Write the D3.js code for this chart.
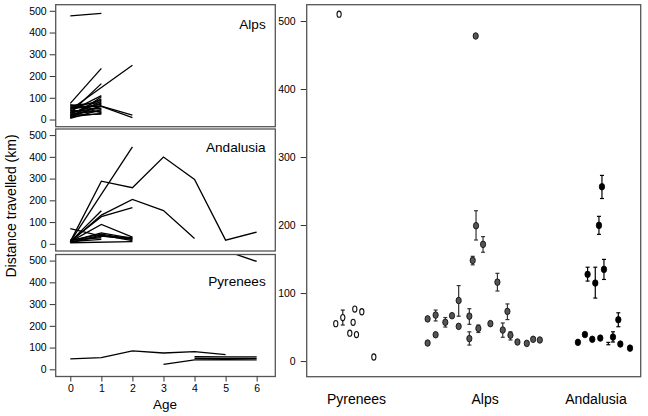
<!DOCTYPE html>
<html>
<head>
<meta charset="utf-8">
<script src="https://cdn.jsdelivr.net/npm/d3@7"></script>
<style>
  body { margin: 0; background: #fff; }
  svg { display: block; font-family: "Liberation Sans", Arial, sans-serif; }
</style>
</head>
<body>
<svg id="chart" width="648" height="416"></svg>
<script>
// ---------------- DATA ----------------
const regions = ["Alps", "Andalusia", "Pyrenees"];
const ageTicks = [0, 1, 2, 3, 4, 5, 6];
const distTicksLeft = [0, 100, 200, 300, 400, 500];
const distTicksRight = [0, 100, 200, 300, 400, 500];

// individual tracks: [age, distance travelled (km)]
const alpsTracks = [
  [[0, 477], [1, 488]],
  [[0, 74], [1, 235]],
  [[0, 45], [2, 250]],
  [[0, 30], [1, 165]],
  [[0, 62], [1, 60], [2, 9]],
  [[0, 55], [1, 62], [2, 20]],
  [[0, 5], [1, 45]],
  [[0, 8], [1, 105]],
  [[0, 12], [1, 28]],
  [[0, 15], [1, 85]],
  [[0, 18], [1, 60]],
  [[0, 22], [1, 95]],
  [[0, 25], [1, 40]],
  [[0, 28], [1, 75]],
  [[0, 35], [1, 52]],
  [[0, 38], [1, 110]],
  [[0, 42], [1, 35]],
  [[0, 48], [1, 70]],
  [[0, 52], [1, 88]],
  [[0, 58], [1, 48]],
  [[0, 65], [1, 78]],
  [[0, 68], [1, 32]],
  [[0, 10], [1, 65]],
  [[0, 20], [1, 25]]
];
const andalusiaTracks = [
  [[0, 10], [2, 446]],
  [[0, 10], [1, 288], [2, 258], [3, 399], [4, 296], [5, 17], [6, 54]],
  [[0, 8], [1, 132], [2, 204], [3, 153], [4, 24]],
  [[0, 10], [1, 152]],
  [[0, 12], [1, 125], [2, 166]],
  [[0, 70], [1, 35], [2, 22]],
  [[0, 10], [1, 89], [2, 31]],
  [[0, 12], [1, 50], [2, 25]],
  [[0, 15], [1, 45], [2, 20]],
  [[0, 8], [1, 40], [2, 15]],
  [[0, 10], [1, 20]],
  [[0, 18], [1, 28]],
  [[0, 6], [1, 35], [2, 28]],
  [[0, 5], [2, 10]]
];
const pyreneesTracks = [
  [[0, 48], [1, 54], [2, 85], [3, 75], [4, 81], [5, 68]],
  [[3, 23], [4, 43], [5, 44], [6, 43]],
  [[4, 58], [5, 57], [6, 57]],
  [[4, 51], [5, 50], [6, 50]],
  [[5, 545], [6, 496]]
];

// right panel: individual mean distance with error bars
// x = horizontal position (0-100 across the panel), y = mean, lo/hi = error bar ends
const catLabels = ["Pyrenees", "Alps", "Andalusia"];
const catPositions = [14.9, 53.4, 86.6];

const pyreneesX  = [9.7, 8.7, 10.8, 14.4, 16.5, 13.9, 12.9, 14.9, 20.1];
const pyreneesY  = [510, 55, 64, 76.5, 72.5, 57, 41, 39, 6];
const pyreneesLo = [null, null, 53, null, null, null, null, null, null];
const pyreneesHi = [null, null, 75, null, null, null, null, null, null];

const alpsX  = [36.2, 36.2, 38.6, 38.6, 41.5, 43.5, 45.5, 45.5, 48.7, 48.7, 49.7, 50.7, 50.6, 51.4, 52.8, 55.0, 57.1, 58.7, 60.1, 61.0, 63.1, 65.9, 67.8, 69.8];
const alpsY  = [62, 26.5, 67.6, 38.7, 57, 66.7, 89, 51, 66, 33, 148, 199, 478, 48, 171.6, 55, 116, 45.6, 73, 38, 28, 26, 32, 31];
const alpsLo = [null, null, 59, null, 50, null, 66, null, 54, 23.5, 141.5, 178, null, 42, 160, null, 103, 35, 61, 31, null, null, null, null];
const alpsHi = [null, null, 75, null, 64, null, 111, null, 77, 43, 154, 221, null, 53, 183, null, 129, 56, 84, 43, null, null, null, null];

const andalusiaX  = [81.2, 83.3, 84.1, 85.5, 86.4, 87.5, 87.9, 88.4, 89.0, 90.3, 91.7, 93.3, 93.9, 96.8];
const andalusiaY  = [27.5, 39, 127.5, 32, 114.7, 199.5, 33.8, 256.3, 134.8, 26, 35.3, 60.8, 25, 19];
const andalusiaLo = [null, null, 117.6, null, 92.6, 186.3, null, 239, 120, 24, 28, 50.5, null, null];
const andalusiaHi = [null, null, 138, null, 138, 212.8, null, 273, 149.5, 27.5, 43, 71, null, null];
const andalusiaMarker = [true, true, true, true, true, true, true, true, true, false, true, true, true, true];

// ---------------- LAYOUT ----------------
const svg = d3.select("#chart");
const font = "'Liberation Sans', Arial, sans-serif";
const frameColor = "#555";
const textColor = "#000";

const left = { x0: 55.7, x1: 275.3, tops: [4.7, 129, 254.5], h: 122 };
const titleOffsets = [19.3, 18.7, 26.5];
const tracksByRegion = [alpsTracks, andalusiaTracks, pyreneesTracks];

const xAge = d3.scaleLinear().domain([-0.47, 6.6]).range([left.x0, left.x1]);

const defs = svg.append("defs");

regions.forEach((name, i) => {
  const top = left.tops[i], bottom = top + left.h;
  const yS = d3.scaleLinear().domain([-33, 528]).range([bottom, top]);
  const g = svg.append("g");

  defs.append("clipPath").attr("id", "clip" + i)
    .append("rect").attr("x", left.x0).attr("y", top)
    .attr("width", left.x1 - left.x0).attr("height", left.h);

  const line = d3.line().x(d => xAge(d[0])).y(d => yS(d[1]));
  g.append("g").attr("clip-path", `url(#clip${i})`)
    .selectAll("path").data(tracksByRegion[i]).join("path")
    .attr("d", line).attr("fill", "none")
    .attr("stroke", "#000").attr("stroke-width", 1.3);

  // y axis
  const ax = g.append("g").attr("transform", `translate(${left.x0},0)`)
    .call(d3.axisLeft(yS).tickValues(distTicksLeft).tickFormat(d3.format("d")).tickSize(6).tickPadding(3));
  ax.select(".domain").remove();
  ax.selectAll("line").attr("stroke", "#333");
  ax.selectAll("text").attr("font-size", 10.5).attr("font-family", font).attr("fill", textColor);

  g.append("rect").attr("x", left.x0).attr("y", top)
    .attr("width", left.x1 - left.x0).attr("height", left.h)
    .attr("fill", "none").attr("stroke", frameColor).attr("stroke-width", 1.3);

  g.append("text").attr("x", 265.7).attr("y", top + titleOffsets[i] + 4.5)
    .attr("text-anchor", "end").attr("font-size", 13.6).attr("font-family", font)
    .attr("fill", textColor).text(name);

  if (i === regions.length - 1) {
    const xa = g.append("g").attr("transform", `translate(0,${bottom})`)
      .call(d3.axisBottom(xAge).tickValues(ageTicks).tickFormat(d3.format("d")).tickSize(5).tickPadding(3));
    xa.select(".domain").remove();
    xa.selectAll("line").attr("stroke", "#333");
    xa.selectAll("text").attr("font-size", 10.5).attr("font-family", font).attr("fill", textColor);
  }
});

svg.append("text").attr("x", 165).attr("y", 409)
  .attr("text-anchor", "middle").attr("font-size", 13.5).attr("font-family", font)
  .attr("fill", textColor).text("Age");

svg.append("text")
  .attr("transform", "translate(16,206) rotate(-90)")
  .attr("text-anchor", "middle").attr("font-size", 14).attr("font-family", font)
  .attr("fill", textColor).text("Distance travelled (km)");

// ---------------- RIGHT PANEL ----------------
const right = { x0: 306.7, x1: 640.7, y0: 4.7, y1: 376.7 };
const xPos = d3.scaleLinear().domain([0, 100]).range([right.x0, right.x1]);
const yR = d3.scaleLinear().domain([-23, 524]).range([right.y1, right.y0]);

const rg = svg.append("g");
const ayR = rg.append("g").attr("transform", `translate(${right.x0},0)`)
  .call(d3.axisLeft(yR).tickValues(distTicksRight).tickFormat(d3.format("d")).tickSize(6).tickPadding(5));
ayR.select(".domain").remove();
ayR.selectAll("line").attr("stroke", "#333");
ayR.selectAll("text").attr("font-size", 10.5).attr("font-family", font).attr("fill", textColor);

rg.append("rect").attr("x", right.x0).attr("y", right.y0)
  .attr("width", right.x1 - right.x0).attr("height", right.y1 - right.y0)
  .attr("fill", "none").attr("stroke", frameColor).attr("stroke-width", 1.3);

function drawGroup(xs, ys, los, his, fill, stroke, errColor, markers, rx, ry, sw) {
  const pts = xs.map((x, i) => ({ x, y: ys[i], lo: los[i], hi: his[i], m: markers ? markers[i] : true }));
  const eb = pts.filter(d => d.lo != null);
  const ge = rg.append("g").attr("stroke", errColor).attr("stroke-width", 1.2);
  ge.selectAll("line.v").data(eb).join("line").attr("class", "v")
    .attr("x1", d => xPos(d.x)).attr("x2", d => xPos(d.x))
    .attr("y1", d => yR(d.lo)).attr("y2", d => yR(d.hi));
  ["lo", "hi"].forEach(k => {
    ge.selectAll("line." + k).data(eb).join("line").attr("class", k)
      .attr("x1", d => xPos(d.x) - 2).attr("x2", d => xPos(d.x) + 2)
      .attr("y1", d => yR(d[k])).attr("y2", d => yR(d[k]));
  });
  rg.append("g").selectAll("ellipse").data(pts.filter(d => d.m)).join("ellipse")
    .attr("cx", d => xPos(d.x)).attr("cy", d => yR(d.y))
    .attr("rx", rx).attr("ry", ry)
    .attr("fill", fill).attr("stroke", stroke).attr("stroke-width", sw);
}

drawGroup(pyreneesX, pyreneesY, pyreneesLo, pyreneesHi, "#fff", "#111", "#222", null, 2.1, 3.1, 1.1);
drawGroup(alpsX, alpsY, alpsLo, alpsHi, "#555", "#111", "#333", null, 2.6, 3.3, 0.9);
drawGroup(andalusiaX, andalusiaY, andalusiaLo, andalusiaHi, "#000", "#000", "#000", andalusiaMarker, 2.7, 3.3, 0.8);

rg.selectAll("text.cat").data(catLabels).join("text").attr("class", "cat")
  .attr("x", (d, i) => xPos(catPositions[i])).attr("y", 404)
  .attr("text-anchor", "middle").attr("font-size", 14).attr("font-family", font)
  .attr("fill", textColor).text(d => d);
</script>
</body>
</html>
